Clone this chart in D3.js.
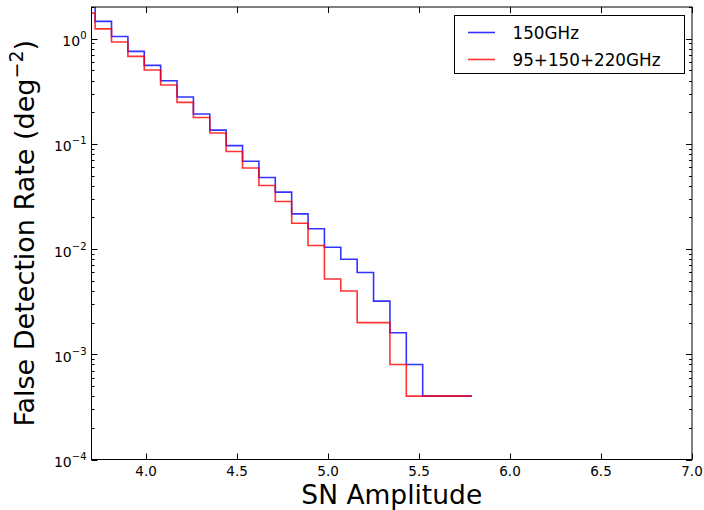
<!DOCTYPE html>
<html>
<head>
<meta charset="utf-8">
<script src="https://cdn.jsdelivr.net/npm/d3@7"></script>
<style>
  html, body { margin: 0; padding: 0; background: #fff; }
  svg { display: block; font-family: "DejaVu Sans", sans-serif; }
</style>
</head>
<body>
<svg id="chart" width="704" height="510"></svg>
<script>
// Histogram bin lower edges (SN amplitude), plus the closing upper edge
const binEdges = [3.63, 3.72, 3.81, 3.90, 3.99, 4.08, 4.17, 4.26, 4.35, 4.44,
                  4.53, 4.62, 4.71, 4.80, 4.89, 4.98, 5.07, 5.16, 5.25, 5.34,
                  5.43, 5.52, 5.61, 5.70, 5.79];

// False detection rate per bin (deg^-2)
const rate150 = [2.6, 1.46, 1.05, 0.757, 0.557, 0.398, 0.279, 0.192, 0.135, 0.0962,
                 0.0683, 0.0479, 0.0348, 0.0216, 0.0156, 0.0104, 0.0080, 0.0060, 0.0032, 0.0016,
                 0.0008, 0.0004, 0.0004, 0.0004];
const rateCombined = [1.75, 1.24, 0.93, 0.679, 0.504, 0.363, 0.248, 0.178, 0.127, 0.0847,
                      0.0589, 0.0402, 0.0283, 0.0176, 0.0108, 0.0052, 0.0040, 0.0020, 0.0020, 0.0008,
                      0.0004, 0.0004, 0.0004, 0.0004];

const seriesNames = ["150GHz", "95+150+220GHz"];
const seriesColors = ["#0000ff", "#ff0000"];

const xTicks = [4.0, 4.5, 5.0, 5.5, 6.0, 6.5, 7.0];
const yTickExponents = [0, -1, -2, -3, -4];

const svg = d3.select("#chart");
const plotLeft = 91.5, plotRight = 692, plotTop = 7, plotBottom = 459.5;

const x = d3.scaleLinear().domain([3.7, 7.0]).range([plotLeft, plotRight]);
const y = d3.scaleLog().domain([1e-4, 2.0]).range([plotBottom, plotTop]);

svg.append("defs").append("clipPath").attr("id", "plotClip")
  .append("rect").attr("x", plotLeft).attr("y", plotTop)
  .attr("width", plotRight - plotLeft).attr("height", plotBottom - plotTop);

// Step lines
const line = d3.line()
  .x(d => x(d[0]))
  .y(d => y(d[1]))
  .curve(d3.curveStepAfter);

function stepPoints(values) {
  const pts = values.map((v, i) => [binEdges[i], v]);
  pts.push([binEdges[values.length], values[values.length - 1]]);
  return pts;
}

const plot = svg.append("g").attr("clip-path", "url(#plotClip)");
[rate150, rateCombined].forEach((vals, i) => {
  plot.append("path")
    .attr("d", line(stepPoints(vals)))
    .attr("fill", "none")
    .attr("stroke", seriesColors[i])
    .attr("stroke-opacity", 0.8)
    .attr("stroke-width", 1.6);
});

// Frame
svg.append("rect")
  .attr("x", plotLeft).attr("y", plotTop)
  .attr("width", plotRight - plotLeft).attr("height", plotBottom - plotTop)
  .attr("fill", "none").attr("stroke", "#000").attr("stroke-width", 1);

// X ticks (inside, bottom and top) and labels
const majorLen = 6, minorLen = 3;
const xt = svg.append("g");
xTicks.forEach(t => {
  const px = Math.round(x(t)) + 0.5;
  xt.append("line").attr("x1", px).attr("x2", px).attr("y1", plotBottom).attr("y2", plotBottom - majorLen)
    .attr("stroke", "#000");
  xt.append("line").attr("x1", px).attr("x2", px).attr("y1", plotTop).attr("y2", plotTop + majorLen)
    .attr("stroke", "#000");
  xt.append("text").attr("x", x(t)).attr("y", 476)
    .attr("text-anchor", "middle").attr("font-size", 13.5).attr("fill", "#000")
    .text(d3.format(".1f")(t));
});

// Y ticks (major + minor, inside, left and right) and labels
const yt = svg.append("g");
yTickExponents.forEach(e => {
  const py = Math.round(y(Math.pow(10, e))) + 0.5;
  yt.append("line").attr("x1", plotLeft).attr("x2", plotLeft + majorLen).attr("y1", py).attr("y2", py).attr("stroke", "#000");
  yt.append("line").attr("x1", plotRight).attr("x2", plotRight - majorLen).attr("y1", py).attr("y2", py).attr("stroke", "#000");
  const label = yt.append("text").attr("x", plotLeft - 5).attr("y", y(Math.pow(10, e)) + 7.5)
    .attr("text-anchor", "end").attr("font-size", 14).attr("fill", "#000");
  label.append("tspan").text("10");
  label.append("tspan").attr("dy", -7).attr("font-size", 10).text(String(e).replace("-", "\u2212"));
  for (let m = 2; m <= 9; m++) {
    const v = m * Math.pow(10, e);
    if (v > 2.0) continue;
    const pm = Math.round(y(v)) + 0.5;
    yt.append("line").attr("x1", plotLeft).attr("x2", plotLeft + minorLen).attr("y1", pm).attr("y2", pm).attr("stroke", "#000");
    yt.append("line").attr("x1", plotRight).attr("x2", plotRight - minorLen).attr("y1", pm).attr("y2", pm).attr("stroke", "#000");
  }
});

// Axis titles
svg.append("text").attr("x", (plotLeft + plotRight) / 2).attr("y", 504)
  .attr("text-anchor", "middle").attr("font-size", 26.5).attr("fill", "#000")
  .text("SN Amplitude");

const yTitle = svg.append("text")
  .attr("transform", `translate(34,${(plotTop + plotBottom) / 2}) rotate(-90)`)
  .attr("text-anchor", "middle").attr("font-size", 27).attr("fill", "#000");
yTitle.append("tspan").text("False Detection Rate (deg");
yTitle.append("tspan").attr("dy", -11).attr("font-size", 19).text("\u22122");
yTitle.append("tspan").attr("dy", 11).text(")");

// Legend
const lg = svg.append("g");
lg.append("rect").attr("x", 454.5).attr("y", 15.5).attr("width", 230).attr("height", 58)
  .attr("fill", "#fff").attr("stroke", "#000").attr("stroke-width", 1);
seriesNames.forEach((name, i) => {
  const ly = 32.5 + i * 27;
  lg.append("line").attr("x1", 468).attr("x2", 495).attr("y1", ly).attr("y2", ly)
    .attr("stroke", seriesColors[i]).attr("stroke-opacity", 0.8).attr("stroke-width", 1.6);
  lg.append("text").attr("x", 512.5).attr("y", ly + 6)
    .attr("font-size", 16.8).attr("fill", "#000").text(name);
});
</script>
</body>
</html>
